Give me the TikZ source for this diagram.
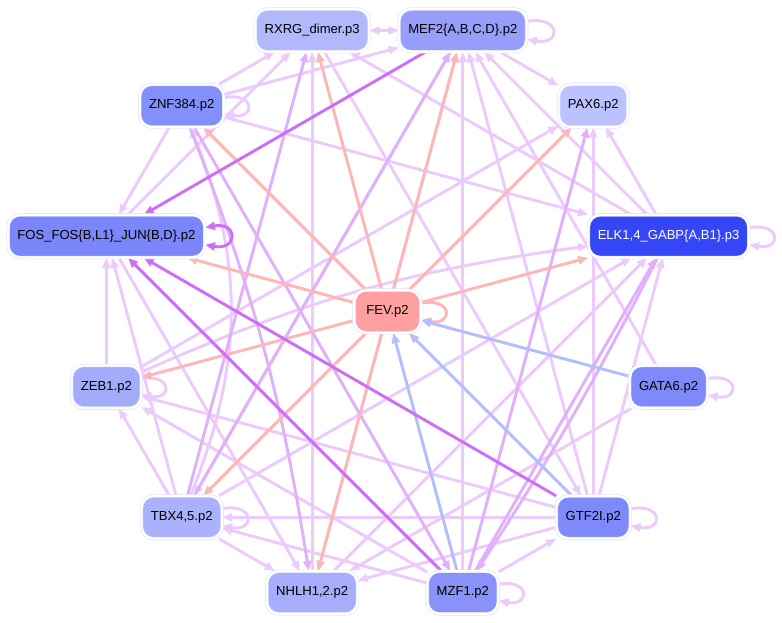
\documentclass[tikz,border=0pt]{standalone}
\usepackage{fontspec}
\setmainfont{Liberation Sans}
\usepackage{xcolor}
\usepackage{tikz}
\usetikzlibrary{arrows.meta, backgrounds}
\definecolor{lav}{RGB}{236,202,252}
\definecolor{lavd}{RGB}{224,176,250}
\definecolor{purp}{RGB}{206,110,248}
\definecolor{salm}{RGB}{255,182,182}
\definecolor{blu}{RGB}{180,190,250}
\definecolor{rim}{RGB}{222,226,253}
\definecolor{cRX}{RGB}{178,184,252}
\definecolor{cME}{RGB}{150,158,250}
\definecolor{cZN}{RGB}{132,144,250}
\definecolor{cPA}{RGB}{188,194,253}
\definecolor{cFO}{RGB}{122,134,249}
\definecolor{cEL}{RGB}{52,70,246}
\definecolor{cFE}{RGB}{255,160,160}
\definecolor{cZE}{RGB}{162,172,251}
\definecolor{cGA}{RGB}{126,138,249}
\definecolor{cTB}{RGB}{170,178,251}
\definecolor{cGT}{RGB}{126,138,249}
\definecolor{cNH}{RGB}{166,174,251}
\definecolor{cMZ}{RGB}{136,146,249}
\tikzset{
	every node/.style={
		align=center, font=\fontsize{9.8}{12}\selectfont,
	},
}
\tikzstyle{tf} = [rectangle, rounded corners=9pt, minimum height=32pt, minimum width=50pt, inner xsep=7pt, draw=rim, double=white, double distance=1.6pt, line width=0.45pt]
\tikzstyle{ed} = [line width=2.2pt, -{Triangle[length=7.5pt,width=6pt]}]
\tikzstyle{ed2} = [line width=2.2pt, {Triangle[length=7.5pt,width=6pt]}-{Triangle[length=7.5pt,width=6pt]}]
\tikzstyle{lite} = [ed, draw=lav]
\tikzstyle{mid} = [ed, draw=lavd]
\tikzstyle{sal} = [ed, draw=salm]
\tikzstyle{blue} = [ed, draw=blu]
\tikzstyle{pur} = [ed, draw=purp]

\begin{document}
\begin{tikzpicture}[x=0.75pt, y=0.75pt]
    \useasboundingbox (-387.5,-311.5) rectangle (394.5,311.5);

    \node (fe) [tf, fill=cFE] at (0,0) {FEV.p2};
    \node (rx) [tf, fill=cRX] at (105:291) {RXRG\_dimer.p3};
    \node (me) [tf, fill=cME] at (75:291) {MEF2\{A,B,C,D\}.p2};
    \node (pa) [tf, fill=cPA] at (45:291) {PAX6.p2};
    \node (el) [tf, fill=cEL, text=white] at (15:291) {ELK1,4\_GABP\{A,B1\}.p3};
    \node (ga) [tf, fill=cGA] at (-15:291) {GATA6.p2};
    \node (gt) [tf, fill=cGT] at (-45:291) {GTF2I.p2};
    \node (mz) [tf, fill=cMZ] at (-75:291) {MZF1.p2};
    \node (nh) [tf, fill=cNH] at (-105:291) {NHLH1,2.p2};
    \node (tb) [tf, fill=cTB] at (-135:291) {TBX4,5.p2};
    \node (ze) [tf, fill=cZE] at (-165:291) {ZEB1.p2};
    \node (fo) [tf, fill=cFO] at (165:291) {FOS\_FOS\{B,L1\}\_JUN\{B,D\}.p2};
    \node (zn) [tf, fill=cZN] at (135:291) {ZNF384.p2};

    \begin{pgfonlayer}{background}
    % light edges
    \draw [ed2, draw=lav] (rx) -- (me);
    \draw [lite] (zn) -- (rx);
    \draw [lite] (fo) -- (rx);
    \draw [lite] (el) -- (rx);
    \draw [lite] (nh) -- (rx);
    \draw [lite] (rx) -- (gt);
    \draw [lite] (zn) -- (me);
    \draw [lite] (mz) -- (me);
    \draw [lite] (gt) -- (me);
    \draw [lite] (ga) -- (me);
    \draw [lite] (el) -- (me);
    \draw [lite] (nh) -- (me);
    \draw [lite] (me) -- (pa);
    \draw [lite] (me) -- (tb);
    \draw [lite] (zn) -- (el);
    \draw [lite] (zn) -- (fo);
    \draw [lite] (tb) to [bend right=22] (zn);
    \draw [lite] (ze) to [bend left=8] (el);
    \draw [lite] (tb) -- (el);
    \draw [lite] (nh) -- (el);
    \draw [lite] (gt) -- (el);
    \draw [lite] (el) -- (pa);
    \draw [lite] (ze) -- (pa);
    \draw [lite] (gt) -- (pa);
    \draw [lite] (ze) -- (fo);
    \draw [lite] (tb) -- (fo);
    \draw [lite] (tb) -- (ze);
    \draw [lite] (gt) -- (ze);
    \draw [lite] (mz) -- (ze);
    \draw [lite] (gt) -- (tb);
    \draw [lite] (mz) -- (tb);
    \draw [lite] (tb) -- (nh);
    \draw [lite] (gt) -- (nh);
    \draw [lite] (ga) -- (nh);
    \draw [lite] (fo) -- (nh);
    \draw [lite] (mz) -- (gt);

    % loops
    \draw [lite] (me.8) to [out=10, in=-10, looseness=5] (me.-8);
    \draw [lite] (zn.11) to [out=10, in=-10, looseness=5] (zn.-11);
    \draw [lite] (el.6) to [out=10, in=-10, looseness=5] (el.-6);
    \draw [lite] (ga.12) to [out=10, in=-10, looseness=5] (ga.-12);
    \draw [lite] (gt.13) to [out=10, in=-10, looseness=5] (gt.-13);
    \draw [lite] (mz.13) to [out=10, in=-10, looseness=5] (mz.-13);
    \draw [lite] (tb.12) to [out=10, in=-10, looseness=5] (tb.-12);
    \draw [lite] (ze.13) to [out=10, in=-10, looseness=5] (ze.-13);

    % darker edges
    \draw [mid] (tb) -- (me);
    \draw [mid] (tb) -- (rx);
    \draw [mid] (el) to [bend left=3] (mz);
    \draw [mid] (mz) -- (el);
    \draw [mid] (mz) -- (pa);
    \draw [mid] (zn) to [bend left=6] (nh);
    \draw [mid] (zn) -- (mz);

    % from FEV
    \draw [sal] (fe) -- (rx);
    \draw [sal] (fe) -- (me);
    \draw [sal] (fe) -- (zn);
    \draw [sal] (fe) -- (pa);
    \draw [sal] (fe) -- (fo);
    \draw [sal] (fe) -- (el);
    \draw [sal] (fe) -- (ze);
    \draw [sal] (fe) -- (tb);
    \draw [sal] (fe) -- (nh);
    \draw [sal] (fe.14) to [out=10, in=-10, looseness=5] (fe.-14);

    % into FEV
    \draw [blue] (ga) -- (fe);
    \draw [blue] (gt) -- (fe);
    \draw [blue] (mz) -- (fe);

    % strong
    \draw [pur] (me) -- (fo);
    \draw [pur] (gt) -- (fo);
    \draw [pur] (mz) -- (fo);
    \draw [ed2, draw=purp] (fo.5) to [out=10, in=-10, looseness=5] (fo.-5);
    \end{pgfonlayer}

\end{tikzpicture}
\end{document}
